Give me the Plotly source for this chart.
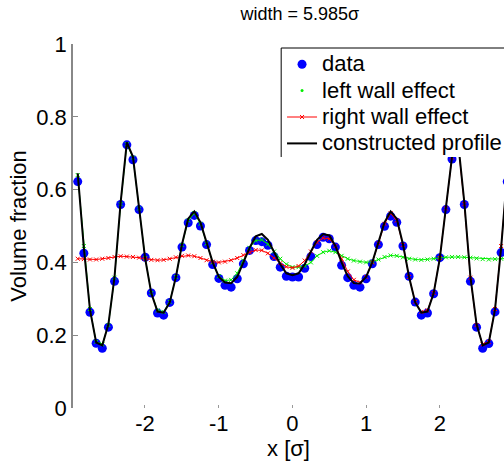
import plotly.graph_objects as go

# positions (sigma)
x_pos = [-2.912, -2.829, -2.746, -2.662, -2.579, -2.496, -2.413, -2.330, -2.246, -2.163,
         -2.080, -1.997, -1.914, -1.830, -1.747, -1.664, -1.581, -1.498, -1.414, -1.331,
         -1.248, -1.165, -1.082, -0.998, -0.915, -0.832, -0.749, -0.666, -0.582, -0.499,
         -0.416, -0.333, -0.250, -0.166, -0.083, 0.0,
         0.083, 0.166, 0.250, 0.333, 0.416, 0.499, 0.582, 0.666, 0.749, 0.832,
         0.915, 0.998, 1.082, 1.165, 1.248, 1.331, 1.414, 1.498, 1.581, 1.664,
         1.747, 1.830, 1.914, 1.997, 2.080, 2.163, 2.246, 2.330, 2.413, 2.496,
         2.579, 2.662, 2.746, 2.829, 2.912]

data_vals = [0.622, 0.425, 0.263, 0.178, 0.164, 0.222, 0.348, 0.559, 0.723, 0.682,
             0.545, 0.414, 0.316, 0.261, 0.255, 0.290, 0.358, 0.442, 0.509, 0.529,
             0.500, 0.449, 0.394, 0.356, 0.337, 0.332, 0.355, 0.396, 0.433, 0.460,
             0.457, 0.447, 0.416, 0.387, 0.362, 0.360,
             0.360, 0.384, 0.416, 0.449, 0.469, 0.465, 0.442, 0.392, 0.358, 0.337,
             0.332, 0.355, 0.396, 0.449, 0.499, 0.527, 0.510, 0.445, 0.362, 0.291,
             0.255, 0.261, 0.314, 0.413, 0.545, 0.684, 0.723, 0.559, 0.348, 0.222,
             0.164, 0.177, 0.264, 0.427, 0.622]

profile_vals = [0.645, 0.440, 0.270, 0.180, 0.172, 0.230, 0.360, 0.565, 0.730, 0.690,
                0.550, 0.410, 0.315, 0.265, 0.262, 0.290, 0.360, 0.450, 0.520, 0.540,
                0.510, 0.455, 0.400, 0.360, 0.345, 0.343, 0.360, 0.400, 0.440, 0.472,
                0.478, 0.462, 0.430, 0.395, 0.370, 0.365,
                0.370, 0.395, 0.430, 0.462, 0.478, 0.474, 0.445, 0.400, 0.362, 0.343,
                0.342, 0.360, 0.400, 0.455, 0.510, 0.540, 0.520, 0.450, 0.360, 0.290,
                0.262, 0.265, 0.315, 0.410, 0.550, 0.690, 0.730, 0.565, 0.360, 0.230,
                0.172, 0.180, 0.270, 0.440, 0.645]

left_wall_vals = [0.640, 0.445, 0.272, 0.182, 0.175, 0.228, 0.358, 0.560, 0.725, 0.688,
                  0.548, 0.412, 0.316, 0.268, 0.264, 0.292, 0.360, 0.448, 0.515, 0.535,
                  0.506, 0.452, 0.400, 0.362, 0.350, 0.352, 0.370, 0.405, 0.440, 0.460,
                  0.462, 0.450, 0.430, 0.410, 0.395, 0.387,
                  0.387, 0.390, 0.400, 0.418, 0.428, 0.432, 0.428, 0.418, 0.410, 0.405,
                  0.402, 0.400, 0.402, 0.408, 0.415, 0.419, 0.418, 0.414, 0.410, 0.408,
                  0.407, 0.408, 0.410, 0.412, 0.414, 0.415, 0.415, 0.414, 0.413, 0.411,
                  0.409, 0.408, 0.409, 0.410, 0.411]

right_wall_vals = [0.410, 0.409, 0.408, 0.408, 0.410, 0.412, 0.415, 0.417, 0.416, 0.415,
                   0.413, 0.410, 0.407, 0.406, 0.407, 0.410, 0.414, 0.418, 0.419, 0.417,
                   0.412, 0.406, 0.402, 0.400, 0.402, 0.406, 0.412, 0.420, 0.428, 0.434,
                   0.433, 0.425, 0.412, 0.398, 0.388, 0.385,
                   0.390, 0.405, 0.430, 0.455, 0.467, 0.465, 0.445, 0.410, 0.375, 0.352,
                   0.345, 0.360, 0.400, 0.452, 0.506, 0.535, 0.515, 0.448, 0.360, 0.292,
                   0.264, 0.268, 0.316, 0.412, 0.548, 0.688, 0.725, 0.560, 0.358, 0.228,
                   0.175, 0.182, 0.272, 0.445, 0.640]

x_ticks = [-2, -1, 0, 1, 2]
x_tick_text = ["-2", "-1", "0", "1", "2"]
y_ticks = [0, 0.2, 0.4, 0.6, 0.8, 1]
y_tick_text = ["0", "0.2", "0.4", "0.6", "0.8", "1"]

FONT = "Liberation Sans, Arial, sans-serif"
FS = 22


def big(s):
    return '<span style="font-size:22px">' + s + '</span>'


fig = go.Figure()
fig.add_trace(go.Scatter(x=x_pos, y=data_vals, mode="markers", name=big("data"),
                         marker=dict(color="#0000ff", size=9)))
fig.add_trace(go.Scatter(x=x_pos, y=left_wall_vals, mode="lines+markers",
                         name="left wall effect", showlegend=False,
                         line=dict(color="#00ee00", width=1),
                         marker=dict(symbol="x-thin", size=4, line=dict(color="#00ee00", width=1))))
fig.add_trace(go.Scatter(x=[None], y=[None], mode="markers", name=big("left wall effect"),
                         marker=dict(color="#00ee00", size=3)))
fig.add_trace(go.Scatter(x=x_pos, y=right_wall_vals, mode="lines+markers",
                         name=big("right wall effect"),
                         line=dict(color="#ff0000", width=1),
                         marker=dict(symbol="x-thin", size=4, line=dict(color="#ff0000", width=1))))
fig.add_trace(go.Scatter(x=x_pos, y=profile_vals, mode="lines", name=big("constructed profile"),
                         line=dict(color="#000000", width=2)))

fig.update_layout(
    width=504, height=462,
    margin=dict(l=73, r=0, t=44, b=54, autoexpand=False),
    paper_bgcolor="white", plot_bgcolor="white",
    hovermode=False,
    font=dict(family=FONT, size=FS, color="black"),
    title=dict(text="width = 5.985σ", x=0.595, xref="container", xanchor="center",
               y=0.97, yref="container", yanchor="middle",
               font=dict(family=FONT, size=18, color="black")),
    showlegend=True,
    legend=dict(x=0.485, y=0.9945, xanchor="left", yanchor="top",
                bgcolor="rgba(0,0,0,0)", borderwidth=0,
                font=dict(family=FONT, size=18, color="black")),
    xaxis=dict(range=[-2.976, 2.868], tickvals=x_ticks, ticktext=x_tick_text,
               ticks="inside", ticklen=3,
               tickcolor="#999999", showline=False, showgrid=False, zeroline=False,
               tickfont=dict(family=FONT, size=FS, color="black"),
               title=dict(text="x [σ]", standoff=2,
                          font=dict(family=FONT, size=FS, color="black"))),
    yaxis=dict(range=[0, 1], tickvals=y_ticks, ticktext=y_tick_text, ticks="inside",
               ticklen=5, tickcolor="#888888", showline=True, linecolor="#888888",
               linewidth=1.5, showgrid=False, zeroline=False,
               tickfont=dict(family=FONT, size=FS, color="black"),
               title=dict(text="Volume fraction", standoff=4,
                          font=dict(family=FONT, size=FS, color="black"))),
    shapes=[
        dict(type="rect", xref="paper", yref="paper", x0=0.483, x1=1.0, y0=0.6896, y1=0.989,
             fillcolor="white", line=dict(width=0), layer="above"),
        dict(type="line", xref="paper", yref="paper", x0=0.483, x1=1.0, y0=0.989, y1=0.989,
             line=dict(color="black", width=1), layer="above"),
        dict(type="line", xref="paper", yref="paper", x0=0.483, x1=0.483, y0=0.989, y1=0.6896,
             line=dict(color="black", width=1), layer="above"),
    ],
)

fig.write_html("out.html", config={"displayModeBar": False},
               post_script="document.body.style.margin='0px';")
